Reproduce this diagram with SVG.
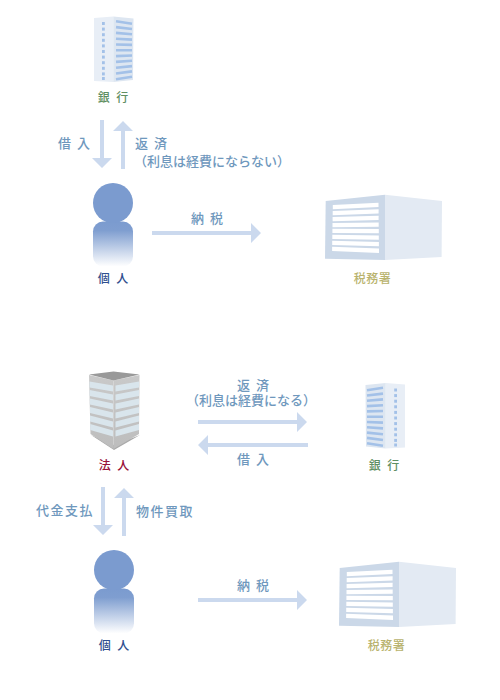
<svg xmlns="http://www.w3.org/2000/svg" xmlns:xlink="http://www.w3.org/1999/xlink" width="500" height="700" viewBox="0 0 500 700">
<style>
text{font-family:"Noto Sans CJK JP","Noto Sans CJK SC",sans-serif;font-weight:500}
.lb{font-size:13px;fill:#6f98bd;letter-spacing:1.5px}
.lw{font-size:13px;fill:#6f98bd;letter-spacing:0}
.bank{font-size:12px;fill:#5f8f62;letter-spacing:2px;text-anchor:middle}
.person{font-size:12px;fill:#2f4f8f;letter-spacing:2px;text-anchor:middle}
.tax{font-size:12px;fill:#b9b36e;letter-spacing:.5px;text-anchor:middle}
.corp{font-size:12px;fill:#98103a;letter-spacing:2px;text-anchor:middle}
.ar{fill:#cbd9ee}
.bs{stroke:#a3c1e8;stroke-width:2.6;fill:none}
.bd{fill:#a3c1e8}
.ts{fill:#fff}
.cl{fill:#d9e5ec}
</style>
<defs>
<linearGradient id="pg" x1="0" y1="0" x2="0" y2="1"><stop offset="0" stop-color="#7b9bcf"/><stop offset=".2" stop-color="#7f9ed0"/><stop offset="1" stop-color="#fff"/></linearGradient>
<linearGradient id="cf" x1="0" y1="0" x2="0" y2="1"><stop offset="0" stop-color="#c9c9c9"/><stop offset="1" stop-color="#bdbdbd"/></linearGradient>
<g id="bk">
<polygon points="94,18 113.3,16.5 113.3,82 94,81" fill="#e8eef6"/>
<polygon points="113.3,16.5 133.5,18.5 133,80 113.3,82" fill="#dde6f1"/>
<g class="bd"><rect x="102" y="22" width="2.8" height="3"/><rect x="102" y="27.6" width="2.8" height="3"/><rect x="102" y="33.2" width="2.8" height="3"/><rect x="102" y="38.8" width="2.8" height="3"/><rect x="102" y="44.4" width="2.8" height="3"/><rect x="102" y="50" width="2.8" height="3"/><rect x="102" y="55.6" width="2.8" height="3"/><rect x="102" y="61.2" width="2.8" height="3"/><rect x="102" y="66.8" width="2.8" height="3"/><rect x="102" y="72.4" width="2.8" height="3"/><rect x="102" y="77" width="2.8" height="3"/></g>
<path class="bs" d="M116 21.3L132 23.7M116 27.1L132 29M116 32.9L132 34.3M116 38.7L132 39.6M116 44.5L132 44.9M116 50.3L132 50.2M116 56.1L132 55.5M116 61.9L132 60.8M116 67.7L132 66.1M116 73.5L132 71.4M116 79.3L132 76.7"/>
</g>
<g id="psn">
<rect x="93" y="221.5" width="40" height="45" rx="10" fill="url(#pg)"/>
<circle cx="113" cy="203" r="20" fill="#7b9bcf"/>
</g>
<g id="txo">
<polygon points="325.7,201 385,194.7 385,260 325,258.7" fill="#cbd8e8"/>
<polygon points="385,194.7 442,201 441.6,257 385,260" fill="#e3eaf3"/>
<g class="ts">
<polygon points="332.8,205 378.5,202.7 378.5,207 332.8,209.3"/>
<polygon points="332.7,211 378.6,209.3 378.6,213.6 332.7,215.3"/>
<polygon points="332.6,216.9 378.6,215.8 378.6,220.1 332.6,221.2"/>
<polygon points="332.5,222.9 378.7,222.4 378.7,226.7 332.5,227.2"/>
<polygon points="332.4,228.8 378.8,228.9 378.8,233.2 332.4,233.1"/>
<polygon points="332.3,234.8 378.8,235.5 378.8,239.8 332.3,239.1"/>
<polygon points="332.2,240.7 378.9,242 378.9,246.3 332.2,245"/>
<polygon points="332.1,246.7 379,248.6 379,252.9 332.1,251"/>
</g>
</g>
</defs>
<g id="connectors">
<polygon class="ar" points="100,120 104,120 104,158 112,158 102,168 92,158 100,158"/>
<polygon class="ar" points="121,169 125,169 125,131 133,131 123,121 113,131 121,131"/>
<polygon class="ar" points="152,231 251,231 251,223 261,233 251,243 251,235 152,235"/>
<polygon class="ar" points="198,420 297,420 297,412 307,422 297,432 297,424 198,424"/>
<polygon class="ar" points="308,443 208,443 208,435 198,445 208,455 208,447 308,447"/>
<polygon class="ar" points="101,487 105,487 105,525 113,525 103,535 93,525 101,525"/>
<polygon class="ar" points="122,536 126,536 126,498 134,498 124,488 114,498 122,498"/>
<polygon class="ar" points="198,598 297,598 297,590 307,600 297,610 297,602 198,602"/>
</g>
<g id="labels">
<text class="lb" x="58" y="148">借 入</text>
<text class="lb" x="135" y="148">返 済</text>
<text class="lw" x="134" y="166">（利息は経費にならない）</text>
<text class="lb" x="191" y="223">納 税</text>
<text class="lb" x="237" y="390">返 済</text>
<text class="lw" x="186" y="405">（利息は経費になる）</text>
<text class="lb" x="237" y="464">借 入</text>
<text class="lb" x="36" y="515">代金支払</text>
<text class="lb" x="136" y="516">物件買取</text>
<text class="lb" x="237" y="590">納 税</text>
</g>
<g id="bank1"><use href="#bk"/><text class="bank" x="114" y="102">銀 行</text></g>
<g id="person1"><use href="#psn"/><text class="person" x="114" y="283">個 人</text></g>
<g id="tax1"><use href="#txo"/><text class="tax" x="372.5" y="283">税務署</text></g>
<g id="corp">
<polygon points="91,435 114,450 140,435 114,445" fill="#aaa"/>
<polygon points="89,375 113.5,380.5 113.5,449 90.5,434" fill="url(#cf)"/>
<polygon points="113.5,380.5 139.5,375 139,434 113.5,449" fill="url(#cf)"/>
<polygon points="89,374.5 113.5,371.5 139.5,374.5 113.5,380.5" fill="#999"/>
<g class="cl">
<polygon points="89.5,381.5 113,385.5 113,391.5 89.5,387.5"/><polygon points="89.6,390 113,394.5 113,400.5 89.6,396"/><polygon points="89.8,398.5 113,403.5 113,409.5 89.8,404.5"/><polygon points="90,407 113,412.5 113,418.5 90,413"/><polygon points="90,415.5 113,421.5 113,427.5 90,421.5"/><polygon points="90.2,424 113,430.5 113,436.5 90.2,430"/>
<polygon points="115.5,385.5 139,381.5 139,387.5 115.5,391.5"/><polygon points="115.5,394.5 139,390 139,396 115.5,400.5"/><polygon points="115.5,403.5 139,398.5 139,404.5 115.5,409.5"/><polygon points="115.5,412.5 139,407 139,413 115.5,418.5"/><polygon points="115.5,421.5 139,415.5 139,421.5 115.5,427.5"/><polygon points="115.5,430.5 139,424 139,430 115.5,436.5"/>
</g>
<text class="corp" x="115" y="470">法 人</text>
</g>
<g id="bank2"><use href="#bk" transform="translate(499 366.5) scale(-1 1)"/><text class="bank" x="385" y="470">銀 行</text></g>
<g id="person2"><use href="#psn" transform="translate(1 367)"/><text class="person" x="115" y="650">個 人</text></g>
<g id="tax2"><use href="#txo" transform="translate(14 367)"/><text class="tax" x="386.5" y="650">税務署</text></g>
</svg>
